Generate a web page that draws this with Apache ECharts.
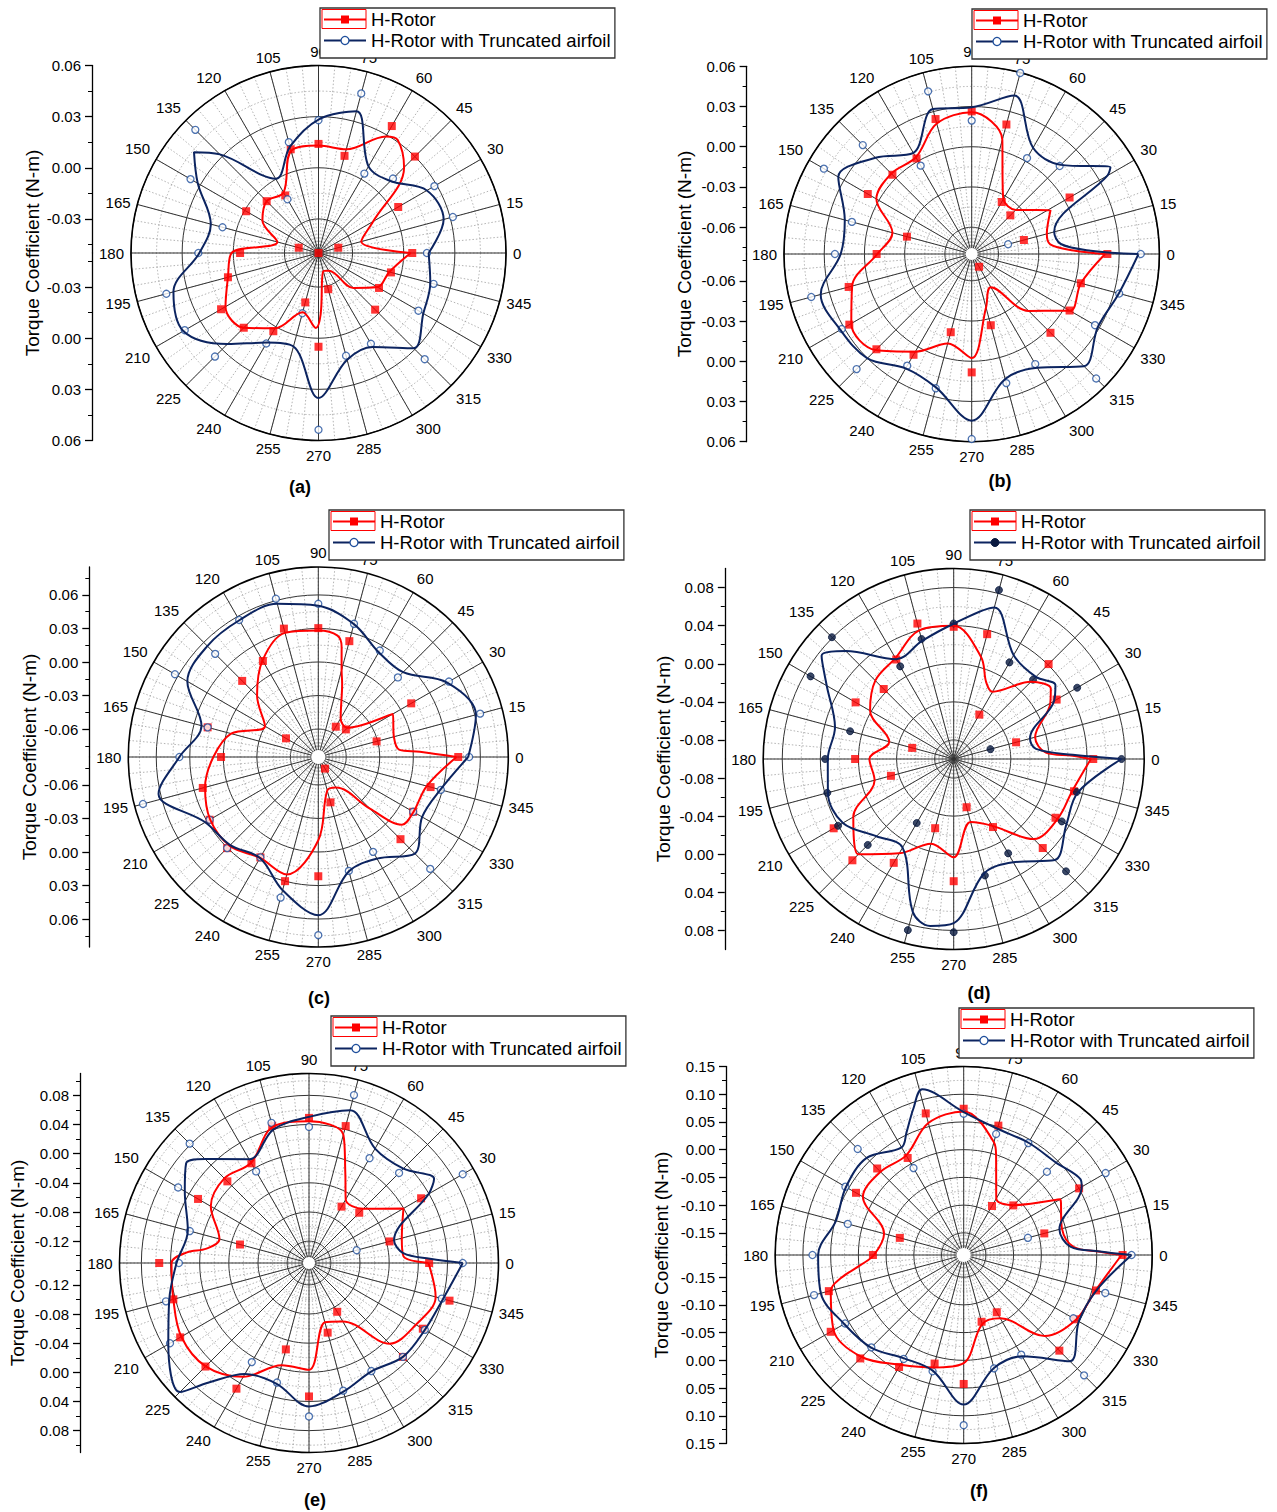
<!DOCTYPE html>
<html><head><meta charset="utf-8">
<script src="https://cdn.jsdelivr.net/npm/echarts@6/dist/echarts.min.js"></script>
<style>html,body{margin:0;padding:0;background:#fff}#c{width:1277px;height:1512px}</style>
</head><body><div id="c"></div>
<script>
// ---------------- data ----------------
const angles = [0,15,30,45,60,75,90,105,120,135,150,165,180,195,210,225,240,255,270,285,300,315,330,345];
const seriesNames = ['H-Rotor', 'H-Rotor with Truncated airfoil'];
const panelLabels = ['(a)','(b)','(c)','(d)','(e)','(f)'];
const yTitle = 'Torque Coefficient (N-m)';

const radialMin = [-0.05, -0.08, -0.085, -0.10, -0.15, -0.19];
const radialMax = [0.06, 0.06, 0.085, 0.10, 0.11, 0.15];

const majorA = [-0.03, 0, 0.03, 0.06];
const majorB = [-0.06, -0.03, 0, 0.03, 0.06];
const majorC = [-0.06, -0.03, 0, 0.03, 0.06];
const majorD = [-0.08, -0.04, 0, 0.04, 0.08];
const majorE = [-0.12, -0.08, -0.04, 0, 0.04, 0.08];
const majorF = [-0.15, -0.10, -0.05, 0, 0.05, 0.10, 0.15];

const minorA = [-0.045, -0.015, 0.015, 0.045];
const minorB = [-0.075, -0.045, -0.015, 0.015, 0.045];
const minorC = [-0.075, -0.045, -0.015, 0.015, 0.045, 0.075];
const minorD = [-0.06, -0.02, 0.02, 0.06];
const minorE = [-0.14, -0.10, -0.06, -0.02, 0.02, 0.06, 0.10];
const minorF = [-0.175, -0.125, -0.075, -0.025, 0.025, 0.075, 0.125];

// markers at the 24 angles (null = not shown)
const redMarkA = [0.005,-0.038,0.004,0.030,0.036,0.009,0.014,0.013,-0.011,-0.007,-0.001,-0.038,-0.004,0.005,0.016,0.012,0.003,-0.020,0.005,-0.028,-0.050,-0.003,-0.009,-0.006];
const blueMarkA = [0.0136,0.0316,0.0285,0.0118,0.0038,0.0469,0.0279,0.0173,-0.0136,0.0522,0.0367,0.0083,0.0205,0.0424,0.0406,0.0359,0.0113,-0.0134,0.0537,0.0124,0.0115,0.0381,0.0177,0.0199];
const redMarkB = [0.0212,-0.0397,0.0043,-0.0392,-0.0352,0.020,0.0264,0.0242,0.0023,0.0036,0.0095,-0.030,-0.0091,0.015,0.0254,0.0205,0.0068,-0.0196,0.0083,-0.025,-0.069,0.0031,0.0043,0.0043];
const blueMarkB = [0.0461,-0.0519,null,0.0128,0.0026,0.0598,0.0195,0.0456,-0.0039,0.0349,0.0473,0.0125,0.022,0.0439,0.0319,0.0414,0.0162,0.0237,0.058,0.0197,0.0148,0.0513,0.0262,0.0339];
const redMarkC = [0.0402,-0.031,0.011,-0.0501,-0.0537,0.0223,0.0303,0.0339,0.0142,0.0113,-0.0516,0.0175,0.002,0.022,0.0273,0.0303,0.0187,0.030,0.0217,-0.043,-0.073,0.019,0.013,0.019];
const blueMarkC = [0.050,0.0649,0.050,0.0157,0.025,0.0384,0.0521,0.0616,0.0566,0.0455,0.0631,0.0175,0.0393,0.0774,0.0273,0.0303,0.0187,0.0452,0.0744,0.0205,0.013,0.0566,0.013,0.0285];
const redMarkD = [0.0465,-0.0322,0.0248,0.0409,-0.0462,0.0357,0.0388,0.0472,0.0206,0.0039,0.0189,-0.0549,0.0035,-0.0318,0.0455,0.0504,0.0259,-0.0248,0.0283,-0.0476,-0.0175,0.0322,0.0234,0.0308];
const blueMarkD = [0.0762,-0.0601,0.0497,0.0178,0.0171,0.0836,0.0423,0.0304,0.0123,0.0808,0.0735,0.0126,0.035,0.0374,0.0402,0.0276,-0.0224,0.086,0.0818,0.0266,0.0144,0.0668,0.0311,0.0336];
const redMarkE = [0.0148,-0.0356,0.0276,-0.0525,-0.0607,0.0445,0.0491,0.045,0.0079,0.0084,0.0258,-0.052,0.0555,0.0427,0.0541,0.0509,0.0491,-0.0273,0.0331,-0.0511,-0.0727,0.0322,0.0303,0.0496];
const blueMarkE = [0.061,-0.0823,0.0935,0.0248,0.0161,0.0885,0.0367,0.0491,-0.0049,0.0816,0.0573,0.0193,0.0285,0.0532,0.0702,null,0.007,0.0198,0.0605,0.0313,0.0212,0.0322,0.0335,0.0386];
const redMarkF = [0.0966,-0.0395,0.0504,-0.0635,-0.088,0.0516,0.0738,0.0744,0.0121,0.0307,0.0343,-0.0707,-0.0263,0.0618,0.087,0.0738,0.0432,0.0127,0.0426,-0.0653,-0.0707,0.054,0.042,0.057];
const blueMarkF = [0.1128,-0.0701,0.1056,0.0223,0.0432,0.036,0.0648,null,-0.0089,0.0804,0.0564,0.0265,0.0828,0.0894,0.057,0.0456,0.0265,0.0271,0.117,0.0217,0.0175,0.117,0.0384,0.0744];

// smoothed curves as [angle, value]
const redCurveA = [[0,0.004],[15,-0.024],[30,-0.013],[45,0.021],[55,0.031],[60,0.029],[75,0.013],[90,0.013],[105,0.012],[120,-0.009],[135,-0.007],[150,-0.012],[165,-0.025],[180,0.001],[195,0.005],[210,0.013],[225,0.012],[240,0.001],[255,-0.014],[268,-0.006],[272,-0.014],[285,-0.039],[300,-0.038],[315,-0.021],[330,-0.010],[345,-0.007]];
const blueCurveA = [[0,0.0146],[15,0.026],[30,0.0234],[45,0.0097],[60,0.0087],[75,0.0361],[90,0.0283],[105,0.0146],[120,0.0003],[135,0.0318],[141,0.044],[150,0.0318],[165,0.0154],[180,0.0199],[195,0.0381],[210,0.0416],[225,0.0256],[240,0.0107],[255,0.0068],[270,0.0351],[285,0.0148],[300,0.0136],[315,0.029],[330,0.021],[345,0.0179]];
const redCurveB = [[0,0.0195],[2,-0.004],[7,-0.021],[15,-0.022],[29,-0.0128],[45,-0.0335],[60,-0.0327],[67,-0.021],[75,0.0083],[90,0.0257],[105,0.0207],[120,0.0033],[135,0.0048],[150,0.0021],[165,-0.0188],[180,-0.0096],[195,0.0123],[210,0.0237],[225,0.0213],[240,0.0041],[255,-0.0109],[270,-0.0024],[285,-0.0387],[300,-0.0514],[315,-0.020],[330,0.0046],[345,0.0043]];
const blueCurveB = [[0,0.0444],[1.6,0.0088],[6.4,-0.0131],[15,-0.0163],[30,0.0369],[32,0.042],[45,0.014],[60,0.0115],[75,0.0424],[90,0.0294],[105,0.0319],[120,0.007],[135,0.0215],[150,0.0349],[165,0.018],[180,0.0177],[195,0.0366],[210,0.0331],[225,0.030],[240,0.0185],[255,0.023],[270,0.0443],[285,0.0165],[300,0.018],[315,0.0384],[330,0.0287],[345,0.0336]];
const redCurveC = [[0,0.0387],[3,0.006],[5,-0.012],[15,-0.015],[30,-0.0081],[45,-0.048],[60,-0.045],[72,-0.016],[75,-0.0045],[78,0.0154],[81,0.025],[90,0.0282],[105,0.030],[120,0.0148],[135,-0.0075],[150,-0.0299],[165,-0.0042],[180,0.0089],[195,0.0199],[210,0.0268],[225,0.0273],[240,0.0193],[255,0.0238],[270,-0.0105],[285,-0.054],[300,-0.0534],[315,-0.0197],[321,0.0113],[330,0.0133],[345,0.0154]];
const blueCurveC = [[0,0.0491],[15,0.061],[30,0.0482],[45,0.0223],[60,0.0232],[75,0.0381],[90,0.0503],[105,0.0569],[120,0.0563],[135,0.0554],[150,0.0503],[165,0.0232],[180,0.0393],[193,0.0617],[210,0.0318],[225,0.0265],[240,0.0193],[255,0.0384],[270,0.0566],[285,0.0209],[300,0.020],[315,0.0372],[330,0.0223],[345,0.0281]];
const redCurveD = [[0,0.044],[1.6,0.025],[4,-0.003],[15,-0.0115],[30,0.0171],[36,0.026],[45,0.0147],[60,-0.0185],[67,-0.0126],[75,0.0109],[90,0.0399],[105,0.0399],[120,0.0224],[135,0.0164],[150,0.0014],[165,-0.030],[180,-0.0115],[195,-0.014],[210,0.0217],[225,0.0416],[240,0.0144],[255,-0.008],[270,0.0032],[285,-0.0314],[300,-0.0189],[315,0.0189],[330,0.0259],[345,0.029]];
const blueCurveD = [[0,0.0762],[2,0.025],[7,-0.013],[15,-0.0171],[30,0.0217],[36,0.032],[45,0.022],[60,0.0259],[75,0.0647],[90,0.042],[105,0.0283],[120,0.021],[135,0.0602],[142,0.076],[150,0.0539],[165,0.029],[180,0.0322],[195,0.0367],[210,0.0343],[225,0.0147],[240,0.0074],[255,0.0661],[262,0.077],[270,0.0724],[285,0.0241],[300,0.0252],[315,0.050],[330,0.0367],[345,0.035]];
const redCurveE = [[0,0.0139],[4,-0.02],[15,-0.0182],[30,-0.0003],[45,-0.0447],[60,-0.0493],[68,-0.017],[75,0.0322],[90,0.0445],[105,0.0432],[120,0.0088],[135,0.0143],[150,0.0056],[165,-0.0228],[172,-0.008],[175,0.018],[180,0.0386],[195,0.0427],[210,0.0523],[225,0.0505],[240,0.0303],[255,-0.0049],[270,-0.0035],[285,-0.0658],[300,-0.0575],[315,0.0065],[330,0.0193],[345,0.0299]];
const blueCurveE = [[0,0.061],[2,0.016],[6,-0.02],[15,-0.0292],[30,0.0395],[34,0.057],[45,0.0331],[60,0.0313],[75,0.067],[90,0.0505],[105,0.0395],[120,0.0143],[135,0.0518],[141,0.067],[150,0.0468],[165,0.0221],[180,0.0317],[195,0.0486],[210,0.0729],[225,0.1004],[230,0.064],[240,0.0258],[255,0.0216],[270,0.0468],[285,0.0326],[300,0.0216],[315,0.0322],[330,0.0335],[345,0.0404]];
const redCurveF = [[0,0.0948],[1.4,0.056],[4.3,0.0085],[15,-0.0065],[30,0.0109],[45,-0.0629],[60,-0.0725],[72,-0.001],[75,0.0205],[90,0.069],[105,0.0564],[120,0.0175],[135,0.0223],[150,0.0199],[165,-0.0413],[180,-0.0281],[185.5,-0.0035],[190.7,0.036],[195,0.0582],[210,0.081],[225,0.0702],[240,0.0384],[255,0.0199],[270,0.0049],[285,-0.061],[300,-0.0581],[315,0.0169],[330,0.0438],[345,0.0564]];
const blueCurveF = [[0,0.1128],[1.5,0.056],[4.5,0.003],[15,-0.0113],[30,0.0558],[33,0.061],[45,0.0457],[60,0.0438],[75,0.0457],[90,0.0678],[104,0.118],[109,0.089],[115,0.054],[120,0.0343],[135,0.0576],[150,0.0552],[165,0.0486],[180,0.0726],[195,0.0768],[210,0.0588],[225,0.0462],[240,0.0253],[255,0.0259],[270,0.0798],[285,0.0211],[300,0.0211],[315,0.081],[330,0.0498],[345,0.0576]];

// ---------------- layout & style ----------------
const FONT = '"Liberation Sans", Arial, sans-serif';
const RED = '#ff0000';
const NAVY = '#0c2460';
const BLUE_EDGE = '#1f4f9c';

const panels = [
  {major: majorA, minor: minorA, red: redMarkA, blue: blueMarkA, redC: redCurveA, blueC: blueCurveA, filled: false, hole: 0},
  {major: majorB, minor: minorB, red: redMarkB, blue: blueMarkB, redC: redCurveB, blueC: blueCurveB, filled: false, hole: 6},
  {major: majorC, minor: minorC, red: redMarkC, blue: blueMarkC, redC: redCurveC, blueC: blueCurveC, filled: false, hole: 7},
  {major: majorD, minor: minorD, red: redMarkD, blue: blueMarkD, redC: redCurveD, blueC: blueCurveD, filled: true,  hole: 0},
  {major: majorE, minor: minorE, red: redMarkE, blue: blueMarkE, redC: redCurveE, blueC: blueCurveE, filled: false, hole: 6},
  {major: majorF, minor: minorF, red: redMarkF, blue: blueMarkF, redC: redCurveF, blueC: blueCurveF, filled: false, hole: 7}
];
const geom = [
  {cx: 318.5, cy: 253,  r: 187.5, ax: 92,    gap: 50,   leg: [320, 8],     lab: [300, 487]},
  {cx: 971.7, cy: 254,  r: 187.7, ax: 746.6, gap: 52.6, leg: [972, 9],     lab: [1000, 481]},
  {cx: 318.3, cy: 757,  r: 190,   ax: 89.3,  gap: 50.6, leg: [329, 510],   lab: [319, 998]},
  {cx: 953.7, cy: 759,  r: 190.5, ax: 724.8, gap: 52,   leg: [970, 510],   lab: [979, 993]},
  {cx: 309,   cy: 1263, r: 189.5, ax: 80,    gap: 53,   leg: [331, 1016],  lab: [315, 1500]},
  {cx: 963.7, cy: 1255, r: 188.5, ax: 726,   gap: 55,   leg: [959, 1008],  lab: [979, 1491]}
];

const option = {
  animation: false,
  backgroundColor: '#fff',
  textStyle: {fontFamily: FONT},
  polar: [], angleAxis: [], radiusAxis: [],
  grid: [], xAxis: [], yAxis: [],
  legend: [], series: [], graphic: []
};

const closeLoop = pts => pts.concat([[pts[0][0] + 360, pts[0][1]]]);
const markData = vals => angles.map((a, i) => vals[i] == null ? null : [vals[i], a]).filter(Boolean);

panels.forEach((p, k) => {
  const g = geom[k];
  const min = radialMin[k], max = radialMax[k];
  const pBack = option.polar.length;
  option.polar.push({center: [g.cx, g.cy], radius: [0, g.r]});
  const pFront = option.polar.length;
  option.polar.push({center: [g.cx, g.cy], radius: [0, g.r]});

  // background: dotted spokes every 5 deg and dotted minor rings
  option.angleAxis.push({
    polarIndex: pBack, type: 'value', min: 0, max: 360, interval: 5, startAngle: 0, clockwise: false,
    axisLine: {show: false}, axisTick: {show: false}, axisLabel: {show: false},
    splitLine: {show: true, lineStyle: {color: '#a0a0a0', width: 0.8, type: [1.5, 2]}}
  });
  option.radiusAxis.push({
    polarIndex: pBack, type: 'value', min: min, max: max,
    axisLine: {show: false}, axisTick: {show: false, customValues: p.minor}, axisLabel: {show: false},
    splitLine: {show: true, lineStyle: {color: '#a0a0a0', width: 0.8, type: [1.5, 2]}}
  });
  // foreground: solid spokes every 15 deg, major rings, outer circle, labels
  option.angleAxis.push({
    polarIndex: pFront, type: 'value', min: 0, max: 360, interval: 15, startAngle: 0, clockwise: false,
    axisLine: {show: true, lineStyle: {color: '#000', width: 1.6}},
    axisTick: {show: false},
    axisLabel: {show: true, margin: 7, fontSize: 15, color: '#000', fontFamily: FONT,
      formatter: v => (v >= 360 ? '' : String(v))},
    splitLine: {show: true, lineStyle: {color: '#333', width: 1}}
  });
  option.radiusAxis.push({
    polarIndex: pFront, type: 'value', min: min, max: max,
    axisLine: {show: false}, axisTick: {show: false, customValues: p.major}, axisLabel: {show: false},
    splitLine: {show: true, lineStyle: {color: '#333', width: 1}}
  });

  // left vertical scale: top half (max at top), bottom half (max at bottom), and title axis
  const gTop = option.grid.length;
  option.grid.push({left: g.ax, top: g.cy - g.r, width: 1, height: g.r});
  const gBot = option.grid.length;
  option.grid.push({left: g.ax, top: g.cy, width: 1, height: g.r});
  const gName = option.grid.length;
  option.grid.push({left: g.ax, top: g.cy - g.r, width: 1, height: 2 * g.r});
  [gTop, gBot, gName].forEach(gi => option.xAxis.push({gridIndex: gi, type: 'value', show: false, min: 0, max: 1}));

  [[gTop, false], [gBot, true]].forEach(([gi, inv]) => {
    option.yAxis.push({
      gridIndex: gi, type: 'value', min: min, max: max, inverse: inv, position: 'left',
      axisLine: {show: true, lineStyle: {color: '#000', width: 1.3}},
      axisTick: {show: true, inside: false, length: 7, customValues: p.major, lineStyle: {color: '#000', width: 1.3}},
      axisLabel: {show: true, customValues: p.major, margin: 11, fontSize: 15, color: '#000', fontFamily: FONT,
        formatter: v => Number(v).toFixed(2)},
      splitLine: {show: false}
    });
    option.yAxis.push({
      gridIndex: gi, type: 'value', min: min, max: max, inverse: inv, position: 'left',
      axisLine: {show: false},
      axisTick: {show: true, inside: false, length: 4, customValues: p.minor, lineStyle: {color: '#000', width: 1}},
      axisLabel: {show: false}, splitLine: {show: false}
    });
  });
  option.yAxis.push({
    gridIndex: gName, type: 'value', min: 0, max: 1, position: 'left',
    axisLine: {show: false}, axisTick: {show: false}, axisLabel: {show: false}, splitLine: {show: false},
    name: yTitle, nameLocation: 'middle', nameGap: g.gap,
    nameTextStyle: {fontSize: 19, color: '#000', fontFamily: FONT}
  });

  // series
  option.series.push({
    type: 'line', name: seriesNames[0], coordinateSystem: 'polar', polarIndex: pFront,
    smooth: 0.35, symbol: 'rect', symbolSize: 8, showSymbol: false, silent: true,
    lineStyle: {color: RED, width: 2}, itemStyle: {color: RED},
    data: closeLoop(p.redC).map(([a, v]) => [v, a])
  });
  option.series.push({
    type: 'scatter', name: seriesNames[0], coordinateSystem: 'polar', polarIndex: pFront,
    symbol: 'rect', symbolSize: 8, silent: true, itemStyle: {color: RED},
    data: markData(p.red)
  });
  const blueItem = p.filled ? {color: '#0a1a40', borderColor: '#0a1a40', borderWidth: 1}
                            : {color: '#fff', borderColor: BLUE_EDGE, borderWidth: 1.3};
  option.series.push({
    type: 'line', name: seriesNames[1], coordinateSystem: 'polar', polarIndex: pFront,
    smooth: 0.35, symbol: 'circle', symbolSize: 7, showSymbol: false, silent: true,
    lineStyle: {color: NAVY, width: 2}, itemStyle: blueItem,
    data: closeLoop(p.blueC).map(([a, v]) => [v, a])
  });
  option.series.push({
    type: 'scatter', name: seriesNames[1], coordinateSystem: 'polar', polarIndex: pFront,
    symbol: 'circle', symbolSize: 7, silent: true, itemStyle: blueItem,
    data: markData(p.blue)
  });

  // legend (box kept tall like the source; rows kept compact at the top)
  option.legend.push({
    left: g.leg[0], top: g.leg[1], orient: 'vertical', selectedMode: false, z: 6,
    backgroundColor: '#fff', borderColor: '#333', borderWidth: 1.3, borderRadius: 0,
    padding: [2, 4, 8, 3], itemGap: 2, itemWidth: 42, itemHeight: 10,
    textStyle: {fontSize: 18.5, color: '#000', fontFamily: FONT, lineHeight: 18},
    data: [
      {name: seriesNames[0], itemStyle: {color: RED}},
      {name: seriesNames[1], itemStyle: blueItem}
    ]
  });
  // red frame around the first legend sample (as in the source figure)
  option.graphic.push({
    type: 'rect', z: 100, silent: true,
    shape: {x: g.leg[0] + 2, y: g.leg[1] + 1.5, width: 44, height: 19},
    style: {fill: 'none', stroke: RED, lineWidth: 1}
  });
  // white hole at the pole
  if (p.hole) {
    option.graphic.push({
      type: 'circle', z: 1, silent: true,
      shape: {cx: g.cx, cy: g.cy, r: p.hole},
      style: {fill: '#fff'}
    });
  }
  // panel label
  option.graphic.push({
    type: 'text', x: g.lab[0], y: g.lab[1], z: 10,
    style: {text: panelLabels[k], fontSize: 18, fontWeight: 'bold', fontFamily: FONT, fill: '#000',
      align: 'center', verticalAlign: 'middle'}
  });
});

const chart = echarts.init(document.getElementById('c'), null, {renderer: 'svg', width: 1277, height: 1512});
chart.setOption(option);
</script>
</body></html>
